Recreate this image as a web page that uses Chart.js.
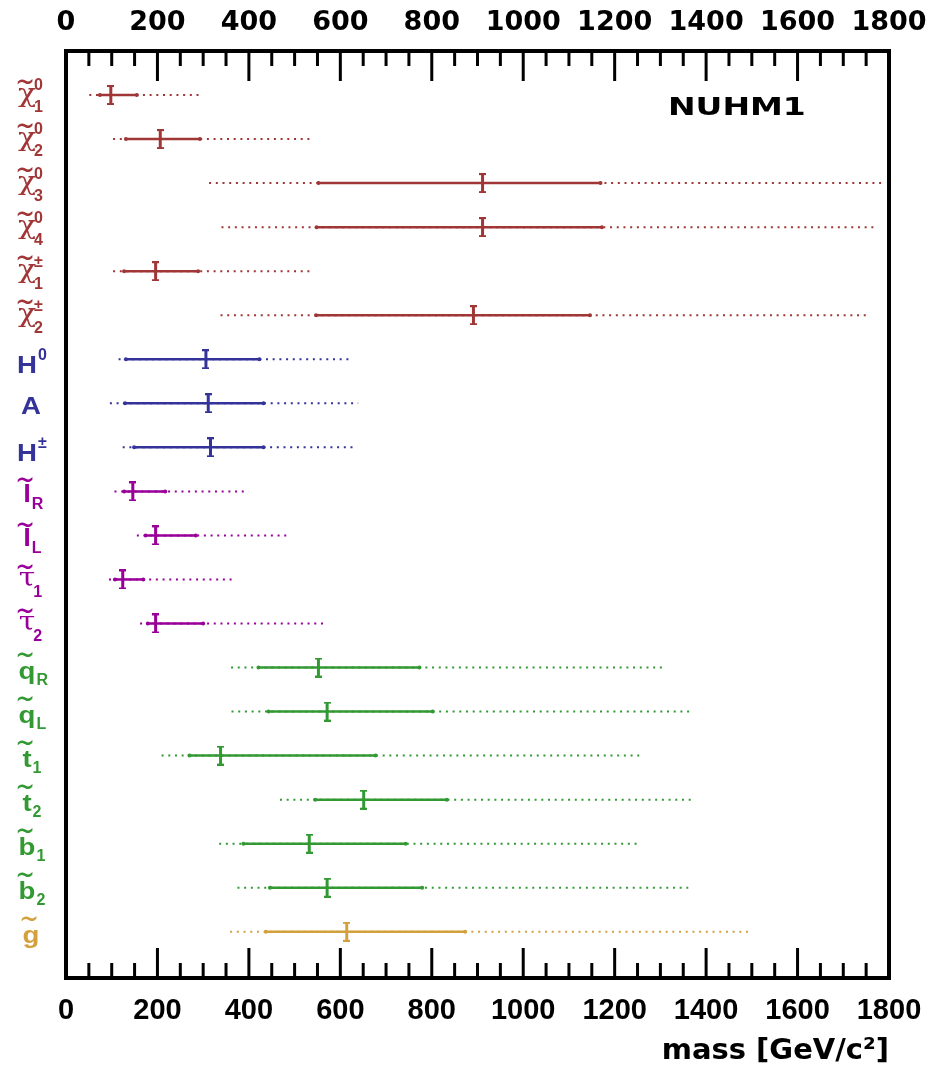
<!DOCTYPE html>
<html>
<head>
<meta charset="utf-8">
<script src="https://cdn.jsdelivr.net/npm/chart.js@4/dist/chart.umd.min.js"></script>
<style>
    body { margin: 0; background: #fff; }
    #wrap { width: 946px; height: 1069px; }
</style>
</head>
<body>
<div id="wrap"><canvas id="myChart" width="946" height="1069"></canvas></div>
<script>
// particle labels (base letter, superscript, subscript, tilde)
var labelBase  = ['χ','χ','χ','χ','χ','χ','H','A','H','l','l','τ','τ','q','q','t','t','b','b','g'];
var labelSup   = ['0','0','0','0','±','±','0','','±','','','','','','','','','','',''];
var labelSub   = ['1','2','3','4','1','2','','','','R','L','1','2','R','L','1','2','1','2',''];
var labelTilde = [1,1,1,1,1,1,0,0,0,1,1,1,1,1,1,1,1,1,1,1];
var labelGroup = ['gaugino','gaugino','gaugino','gaugino','gaugino','gaugino',
                  'higgs','higgs','higgs',
                  'slepton','slepton','slepton','slepton',
                  'squark','squark','squark','squark','squark','squark',
                  'gluino'];

// masses in GeV/c^2
var bestFit = [98, 206, 911, 911, 196, 891, 306, 311, 316, 146, 196, 124, 196, 552, 571, 338, 651, 532, 571, 614];
var lo68    = [74, 131, 552, 548, 127, 547, 131, 129, 149, 127, 174, 107, 179, 421, 443, 270, 545, 388, 446, 437];
var hi68    = [155, 293, 1169, 1172, 289, 1146, 423, 432, 432, 217, 284, 169, 300, 773, 802, 677, 833, 743, 779, 873];
var lo95    = [51, 103, 313, 340, 103, 338, 115, 96, 124, 106, 155, 94, 162, 361, 362, 209, 468, 335, 375, 359];
var hi95    = [293, 541, 1788, 1775, 539, 1751, 625, 639, 632, 393, 488, 364, 566, 1310, 1372, 1259, 1376, 1255, 1361, 1498];

var xTicks = [0, 200, 400, 600, 800, 1000, 1200, 1400, 1600, 1800];

var groupColors = {
    gaugino: '#a03636',
    higgs: '#333399',
    slepton: '#990099',
    squark: '#339933',
    gluino: '#d4a03c'
};

function rowColor(i) {
    return groupColors[labelGroup[i]];
}

// pairs of points separated by a gap, one pair per particle
function rangeData(lo, hi) {
    var d = [];
    lo.forEach(function (v, i) {
        d.push({ x: v, y: i + 1 });
        d.push({ x: hi[i], y: i + 1 });
        d.push({ x: null, y: null });
    });
    return d;
}

// the "I" marker for the best fit value
function makeMarker(color) {
    var c = document.createElement('canvas');
    c.width = 7; c.height = 20;
    var g = c.getContext('2d');
    g.fillStyle = color;
    g.fillRect(2, 0, 3, 20);
    g.fillRect(0, 0, 7, 2);
    g.fillRect(0, 18, 7, 2);
    return c;
}
var markers = {};
Object.keys(groupColors).forEach(function (k) { markers[k] = makeMarker(groupColors[k]); });

var framePlugin = {
    id: 'frame',
    afterDatasetsDraw: function (chart) {
        var ctx = chart.ctx;
        var a = chart.chartArea;
        var xs = chart.scales.x;
        var ys = chart.scales.y;
        ctx.save();
        ctx.strokeStyle = '#000';
        ctx.lineWidth = 4;
        ctx.strokeRect(a.left, a.top, a.right - a.left, a.bottom - a.top);

        // inward ticks, top and bottom
        ctx.lineWidth = 3;
        ctx.beginPath();
        for (var v = 50; v < 1800; v += 50) {
            var px = xs.getPixelForValue(v);
            var len = (v % 200 === 0) ? 30 : 15;
            ctx.moveTo(px, a.top);
            ctx.lineTo(px, a.top + len);
            ctx.moveTo(px, a.bottom);
            ctx.lineTo(px, a.bottom - len);
        }
        ctx.stroke();

        // model name
        ctx.fillStyle = '#000';
        ctx.font = 'bold 25px "DejaVu Sans"';
        ctx.textBaseline = 'alphabetic';
        ctx.save();
        ctx.translate(668, 115);
        ctx.scale(1.32, 1);
        ctx.fillText('NUHM1', 0, 0);
        ctx.restore();

        // particle labels
        var sx = 1.15;
        labelBase.forEach(function (base, i) {
            var yc = ys.getPixelForValue(i + 1);
            ctx.fillStyle = rowColor(i);
            var greek = (base === 'χ' || base === 'τ');
            ctx.font = greek ? '26px "DejaVu Serif"' : 'bold 24px "Liberation Sans"';
            var w = ctx.measureText(base).width * sx;
            var cx = (base === 'g' || base === 'A') ? 31 : 27;
            var x0 = cx - w / 2;
            var by = base === 'H' ? yc + 14 : (greek ? yc + 7 : yc + 11);
            ctx.textBaseline = 'alphabetic';
            ctx.save();
            ctx.translate(x0, by);
            ctx.scale(sx, 1);
            ctx.fillText(base, 0, 0);
            ctx.restore();

            if (labelTilde[i]) {
                ctx.font = '26px "DejaVu Sans"';
                ctx.textBaseline = 'middle';
                ctx.textAlign = 'center';
                var ty = base === 'l' ? yc - 9 : yc - 11;
                ctx.save();
                ctx.translate(cx - 2, ty);
                ctx.scale(0.9, 1.2);
                ctx.fillText('~', 0, 0);
                ctx.restore();
                ctx.textAlign = 'left';
            }
            ctx.font = 'bold 16px "Liberation Sans"';
            ctx.textBaseline = 'middle';
            var sxp = x0 + w + (greek ? -2 : 1);
            if (labelSup[i]) {
                var supY = base === 'H' ? yc - 4 : yc - 9;
                ctx.fillText(labelSup[i], sxp, supY);
            }
            if (labelSub[i]) {
                ctx.fillText(labelSub[i], sxp, yc + 13);
            }
        });
        ctx.restore();
    }
};

function plainTick(v) {
    return String(v);
}

document.addEventListener('DOMContentLoaded', function () {
    var ctx = document.getElementById('myChart').getContext('2d');
    var chart = new Chart(ctx, {
        type: 'line',
        data: {
            datasets: [{
                label: '95% range',
                data: rangeData(lo95, hi95),
                borderWidth: 2,
                borderDash: [2, 4.7],
                borderCapStyle: 'butt',
                pointRadius: 0,
                spanGaps: false,
                segment: {
                    borderColor: function (c) { return rowColor(Math.floor(c.p0DataIndex / 3)); }
                }
            },
            {
                label: '68% range',
                data: rangeData(lo68, hi68),
                borderWidth: 2.5,
                pointRadius: 2,
                pointBorderWidth: 0,
                pointBackgroundColor: function (c) { return rowColor(Math.floor(c.dataIndex / 3)); },
                spanGaps: false,
                segment: {
                    borderColor: function (c) { return rowColor(Math.floor(c.p0DataIndex / 3)); }
                }
            },
            {
                label: 'best fit',
                data: bestFit.map(function (v, i) { return { x: v, y: i + 1 }; }),
                showLine: false,
                pointStyle: function (c) { return markers[labelGroup[c.dataIndex]]; },
                pointRadius: 10
            }]
        },
        options: {
            responsive: false,
            animation: false,
            devicePixelRatio: 1,
            layout: { padding: { left: 66, right: 57, top: 0, bottom: 0 } },
            plugins: {
                legend: { display: false },
                tooltip: { enabled: false }
            },
            scales: {
                x: {
                    type: 'linear',
                    position: 'bottom',
                    min: 0,
                    max: 1800,
                    afterBuildTicks: function (s) { s.ticks = xTicks.map(function (v) { return { value: v }; }); },
                    afterFit: function (s) { s.height = 91; },
                    grid: { display: false, drawTicks: false },
                    border: { display: false },
                    ticks: {
                        color: '#000',
                        padding: 16,
                        maxRotation: 0,
                        autoSkip: false,
                        callback: plainTick,
                        font: { family: 'Liberation Sans', weight: 'bold', size: 29 }
                    },
                    title: {
                        display: true,
                        text: 'mass [GeV/c²]',
                        align: 'end',
                        color: '#000',
                        padding: 0,
                        font: { family: 'DejaVu Sans', weight: 'bold', size: 29 }
                    }
                },
                x2: {
                    type: 'linear',
                    position: 'top',
                    min: 0,
                    max: 1800,
                    afterBuildTicks: function (s) { s.ticks = xTicks.map(function (v) { return { value: v }; }); },
                    afterFit: function (s) { s.height = 51; },
                    grid: { display: false, drawTicks: false },
                    border: { display: false },
                    ticks: {
                        color: '#000',
                        padding: 12,
                        maxRotation: 0,
                        autoSkip: false,
                        callback: plainTick,
                        font: { family: 'DejaVu Sans', weight: 'bold', size: 27 }
                    }
                },
                y: {
                    type: 'linear',
                    display: false,
                    reverse: true,
                    min: 0,
                    max: 21.05
                }
            }
        },
        plugins: [framePlugin]
    });
});
</script>
</body>
</html>
